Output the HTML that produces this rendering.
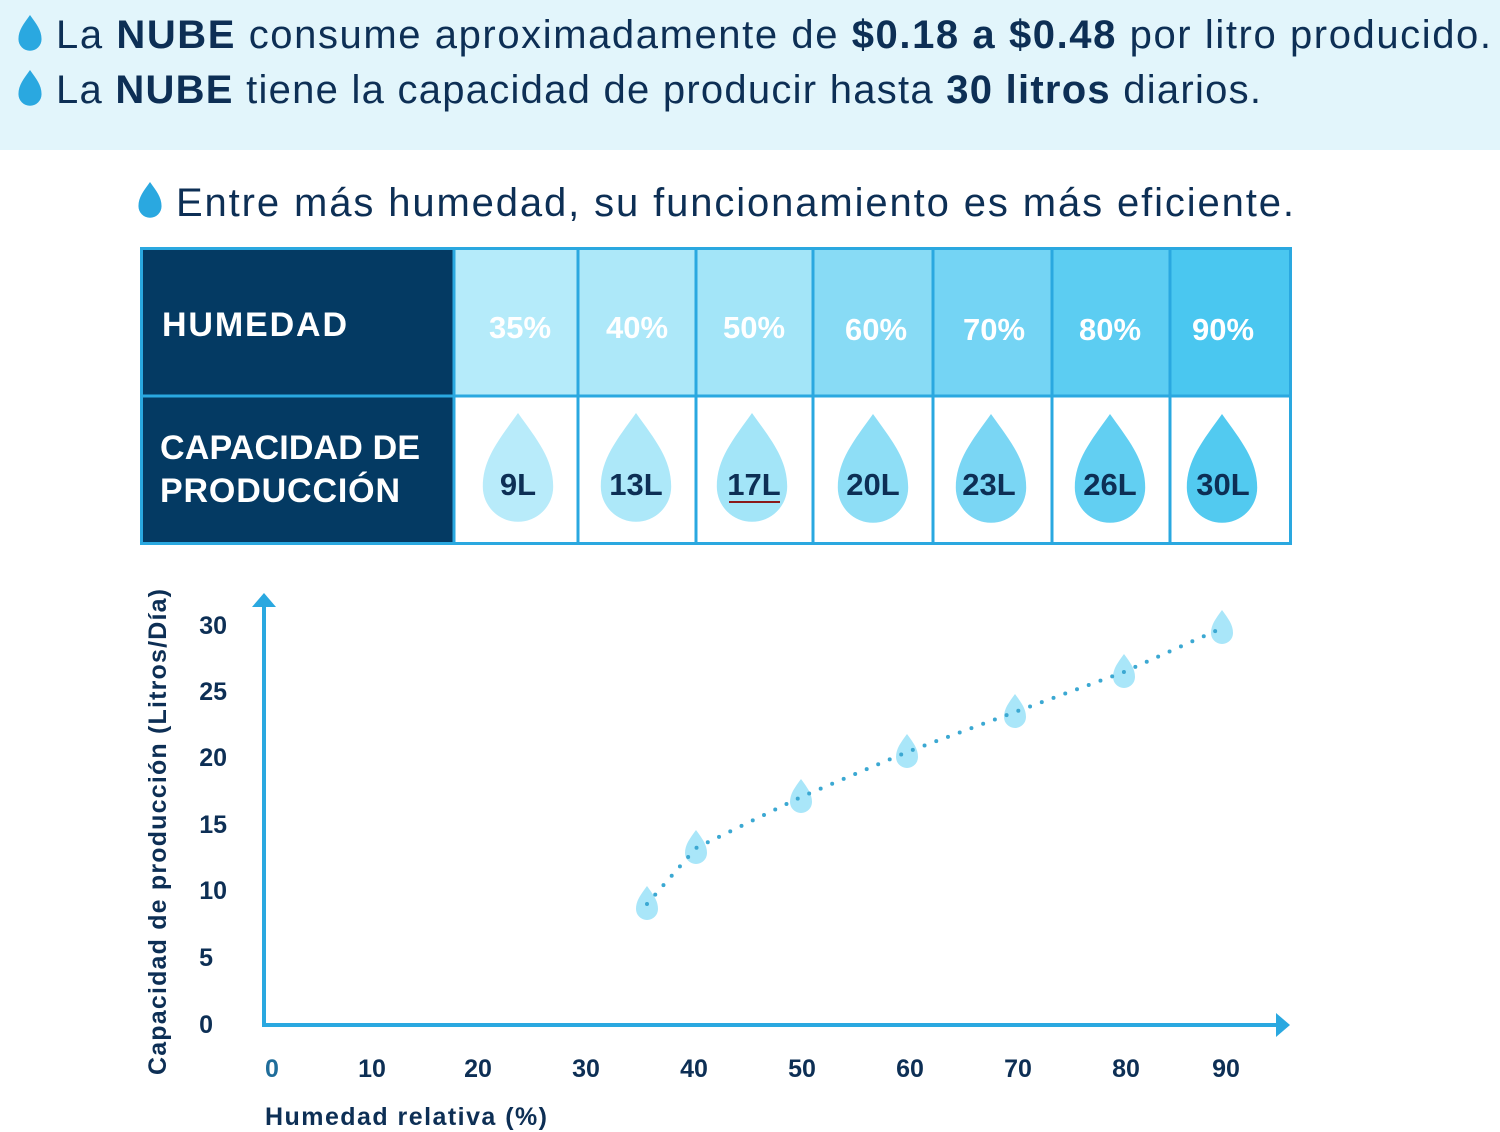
<!DOCTYPE html>
<html><head><meta charset="utf-8"><style>
body{margin:0;width:1500px;height:1132px;background:#fff;overflow:hidden}
svg{display:block}
text{font-family:"Liberation Sans",Arial,sans-serif}
</style></head><body>
<svg width="1500" height="1132" viewBox="0 0 1500 1132" xmlns="http://www.w3.org/2000/svg">
<defs>
<path id="d" d="M0 -1 C0.3 -0.58 0.55 -0.28 0.55 0.15 A0.55 0.55 0 0 1 -0.55 0.15 C-0.55 -0.28 -0.3 -0.58 0 -1Z"/>
</defs>
<rect x="0" y="0" width="1500" height="150" fill="#e2f5fb"/>
<use href="#d" transform="translate(30,36) scale(21)" fill="#2aa8e0"/>
<use href="#d" transform="translate(30,91) scale(21)" fill="#2aa8e0"/>
<text x="56" y="48" font-size="40" fill="#0d2f55" textLength="1435">La <tspan font-weight="bold">NUBE</tspan> consume aproximadamente de <tspan font-weight="bold">$0.18 a $0.48</tspan> por litro producido.</text>
<text x="56" y="103" font-size="40" fill="#0d2f55" textLength="1205">La <tspan font-weight="bold">NUBE</tspan> tiene la capacidad de producir hasta <tspan font-weight="bold">30 litros</tspan> diarios.</text>
<use href="#d" transform="translate(150,203) scale(21)" fill="#2aa8e0"/>
<text x="176" y="216" font-size="40" fill="#0d2f55" textLength="1118">Entre más humedad, su funcionamiento es más eficiente.</text>

<!-- table -->
<rect x="141.5" y="248.5" width="1149" height="295" fill="#fff" stroke="#2aa8e0" stroke-width="3"/>
<rect x="143" y="250" width="311" height="292" fill="#043a63"/>
<rect x="454" y="250" width="124" height="146" fill="#b5ebfa"/>
<rect x="578" y="250" width="118" height="146" fill="#ade8f9"/>
<rect x="696" y="250" width="117" height="146" fill="#a3e5f8"/>
<rect x="813" y="250" width="120" height="146" fill="#88dbf5"/>
<rect x="933" y="250" width="119" height="146" fill="#74d4f4"/>
<rect x="1052" y="250" width="118" height="146" fill="#5ccdf2"/>
<rect x="1170" y="250" width="119" height="146" fill="#4ac7f0"/>
<g stroke="#2aa8e0" stroke-width="3">
<line x1="143" y1="396" x2="1290" y2="396"/>
<line x1="454" y1="250" x2="454" y2="542"/>
<line x1="578" y1="250" x2="578" y2="542"/>
<line x1="696" y1="250" x2="696" y2="542"/>
<line x1="813" y1="250" x2="813" y2="542"/>
<line x1="933" y1="250" x2="933" y2="542"/>
<line x1="1052" y1="250" x2="1052" y2="542"/>
<line x1="1170" y1="250" x2="1170" y2="542"/>
</g>
<text x="162" y="336" font-size="34" font-weight="bold" fill="#fff" textLength="185">HUMEDAD</text>
<text x="160" y="459" font-size="34" font-weight="bold" fill="#fff" textLength="260">CAPACIDAD DE</text>
<text x="160" y="502" font-size="34" font-weight="bold" fill="#fff" textLength="240">PRODUCCIÓN</text>
<g font-size="31" font-weight="bold" fill="#fff" text-anchor="middle">
<text x="520" y="338">35%</text><text x="637" y="338">40%</text><text x="754" y="338">50%</text>
<text x="876" y="340">60%</text><text x="994" y="340">70%</text><text x="1110" y="340">80%</text><text x="1223" y="340">90%</text>
</g>
<use href="#d" transform="translate(518,477) scale(64)" fill="#b8ebfa"/>
<use href="#d" transform="translate(636,477) scale(64)" fill="#ade8f9"/>
<use href="#d" transform="translate(752,477) scale(64)" fill="#a3e5f8"/>
<use href="#d" transform="translate(873,478) scale(64)" fill="#8edef6"/>
<use href="#d" transform="translate(991,478) scale(64)" fill="#7ad6f4"/>
<use href="#d" transform="translate(1110,478) scale(64)" fill="#62cff2"/>
<use href="#d" transform="translate(1222,478) scale(64)" fill="#52caf0"/>
<g font-size="31" font-weight="bold" fill="#0d2f55" text-anchor="middle">
<text x="518" y="495">9L</text><text x="636" y="495">13L</text><text x="754" y="495">17L</text>
<text x="873" y="495">20L</text><text x="989" y="495">23L</text><text x="1110" y="495">26L</text><text x="1223" y="495">30L</text>
</g>
<line x1="729" y1="502" x2="780" y2="502" stroke="#8b1a1a" stroke-width="2"/>

<!-- chart -->
<line x1="264" y1="605" x2="264" y2="1027" stroke="#2aa8e0" stroke-width="4"/>
<polygon points="252,607 264,593 276,607" fill="#2aa8e0"/>
<line x1="262" y1="1025" x2="1278" y2="1025" stroke="#2aa8e0" stroke-width="4"/>
<polygon points="1276,1013 1290,1025 1276,1037" fill="#2aa8e0"/>
<g font-size="25" font-weight="bold" fill="#0d2f55" text-anchor="end">
<text x="227" y="634">30</text><text x="227" y="700">25</text><text x="227" y="766">20</text>
<text x="227" y="833">15</text><text x="227" y="899">10</text><text x="213" y="966">5</text><text x="213" y="1033">0</text>
</g>
<g font-size="25" font-weight="bold" fill="#0d2f55" text-anchor="middle">
<text x="272" y="1077" fill="#1f6d9a">0</text><text x="372" y="1077">10</text><text x="478" y="1077">20</text>
<text x="586" y="1077">30</text><text x="694" y="1077">40</text><text x="802" y="1077">50</text>
<text x="910" y="1077">60</text><text x="1018" y="1077">70</text><text x="1126" y="1077">80</text><text x="1226" y="1077">90</text>
</g>
<text x="265" y="1125" font-size="25" font-weight="bold" fill="#0d2f55" textLength="282">Humedad relativa (%)</text>
<text transform="translate(166,1075) rotate(-90)" font-size="25" font-weight="bold" fill="#0d2f55" textLength="486">Capacidad de producción (Litros/Día)</text>
<g fill="#a9e6f9">
<use href="#d" transform="translate(647,906) scale(20)"/>
<use href="#d" transform="translate(696,850) scale(20)"/>
<use href="#d" transform="translate(801,799) scale(20)"/>
<use href="#d" transform="translate(907,754) scale(20)"/>
<use href="#d" transform="translate(1015,714) scale(20)"/>
<use href="#d" transform="translate(1124,674) scale(20)"/>
<use href="#d" transform="translate(1222,630) scale(20)"/>
</g>
<polyline points="647,904 696,848 801,797 907,752 1015,712 1124,672 1222,628" fill="none" stroke="#3ba8d2" stroke-width="4" stroke-linecap="round" stroke-dasharray="0 12.5"/>
</svg>
</body></html>
